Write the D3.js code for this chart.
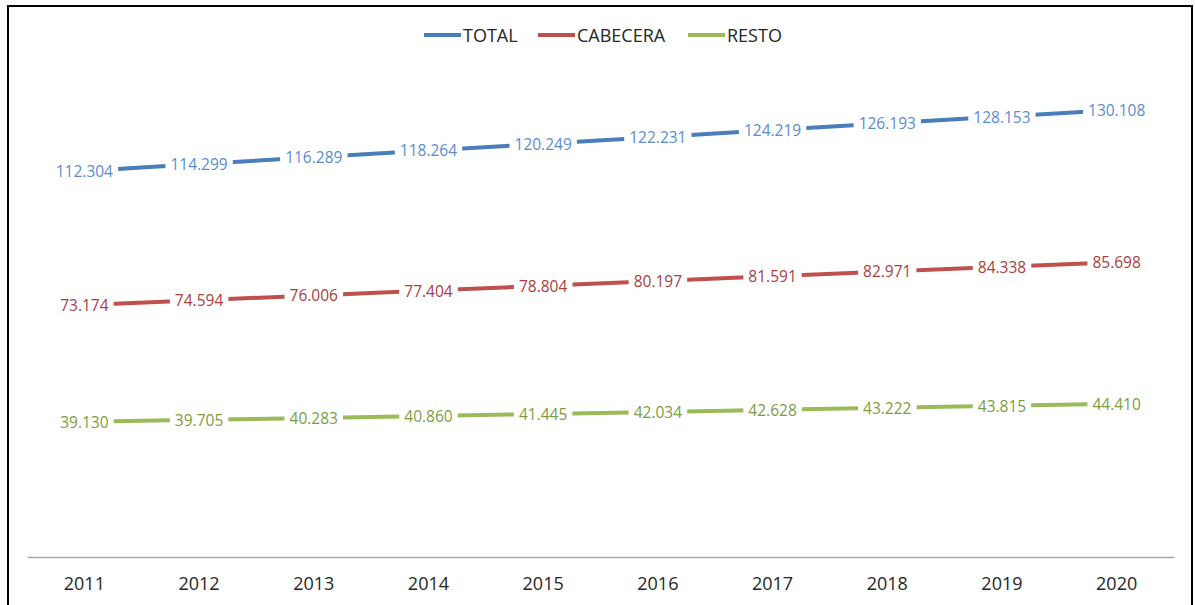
<!DOCTYPE html>
<html>
<head>
<meta charset="utf-8">
<script src="https://cdn.jsdelivr.net/npm/d3@7"></script>
<style>
	body { margin: 0; background: #fff; }
	text { font-family: "Open Sans", sans-serif; }
</style>
</head>
<body>
<script>

// datos del grafico
var years = ["2011", "2012", "2013", "2014", "2015", "2016", "2017", "2018", "2019", "2020"];
var total = [112304, 114299, 116289, 118264, 120249, 122231, 124219, 126193, 128153, 130108];
var cabecera = [73174, 74594, 76006, 77404, 78804, 80197, 81591, 82971, 84338, 85698];
var resto = [39130, 39705, 40283, 40860, 41445, 42034, 42628, 43222, 43815, 44410];
var series_names = ["TOTAL", "CABECERA", "RESTO"];

var width = 1195,
	height = 605;

var line_colours = ["#4a7ebb", "#c0504d", "#9bbb59"];
var label_colours = ["#5b8cd0", "#a8403e", "#7d9c43"];

var es = d3.formatLocale({decimal: ",", thousands: ".", grouping: [3], currency: ["", ""]});
var fmt = es.format(",");

var svg = d3.select("body").append("svg")
	.attr("width", width)
	.attr("height", height);

// marco
svg.append("rect")
	.attr("x", 8)
	.attr("y", 6)
	.attr("width", 1184)
	.attr("height", 700)
	.attr("fill", "white")
	.attr("stroke", "black")
	.attr("stroke-width", 2);

var x = d3.scaleBand().domain(years).range([27, 1174]);
var y = d3.scaleLinear().domain([0, 140000]).range([556, 76]);

// eje x
var x_axis = svg.append("g")
	.attr("transform", "translate(0,557)")
	.call(d3.axisBottom(x).tickSize(0).tickPadding(0));

x_axis.select(".domain")
	.attr("stroke", "#a6a6a6")
	.attr("stroke-width", 1.5);

x_axis.selectAll("text")
	.attr("dy", null)
	.attr("y", 33)
	.attr("fill", "#262626")
	.style("font-size", "18px");

var line = d3.line()
	.x(function(d, i) { return x(years[i]) + x.bandwidth() / 2; })
	.y(function(d) { return y(d); });

var data = [total, cabecera, resto];

data.forEach(function(values, s) {
	var g = svg.append("g");

	g.append("path")
		.datum(values)
		.attr("fill", "none")
		.attr("stroke", line_colours[s])
		.attr("stroke-width", 4)
		.attr("d", line);

	var labels = g.selectAll(".lbl")
		.data(values)
		.enter().append("g")
		.attr("class", "lbl")
		.attr("transform", function(d, i) {
			return "translate(" + (x(years[i]) + x.bandwidth() / 2) + "," + y(d) + ")";
		});

	var txt = labels.append("text")
		.attr("text-anchor", "middle")
		.attr("dy", "0.38em")
		.attr("fill", label_colours[s])
		.style("font-size", "15.5px")
		.text(function(d) { return fmt(d); });

	// fondo blanco detras de cada etiqueta
	txt.each(function() {
		var bb = this.getBBox();
		d3.select(this.parentNode).insert("rect", "text")
			.attr("x", bb.x - 5)
			.attr("y", bb.y)
			.attr("width", bb.width + 10)
			.attr("height", bb.height)
			.attr("fill", "white");
	});
});

// leyenda
var legend_x = [424, 538, 688];

var legend = svg.append("g")
	.selectAll("g")
	.data(series_names)
	.enter().append("g")
	.attr("transform", function(d, i) { return "translate(" + legend_x[i] + ",35)"; });

legend.append("line")
	.attr("x1", 0)
	.attr("x2", 37)
	.attr("stroke", function(d, i) { return line_colours[i]; })
	.attr("stroke-width", 4);

legend.append("text")
	.attr("x", 39)
	.attr("y", 7)
	.attr("fill", "#262626")
	.style("font-size", "18px")
	.text(function(d) { return d; });

</script>
</body>
</html>
